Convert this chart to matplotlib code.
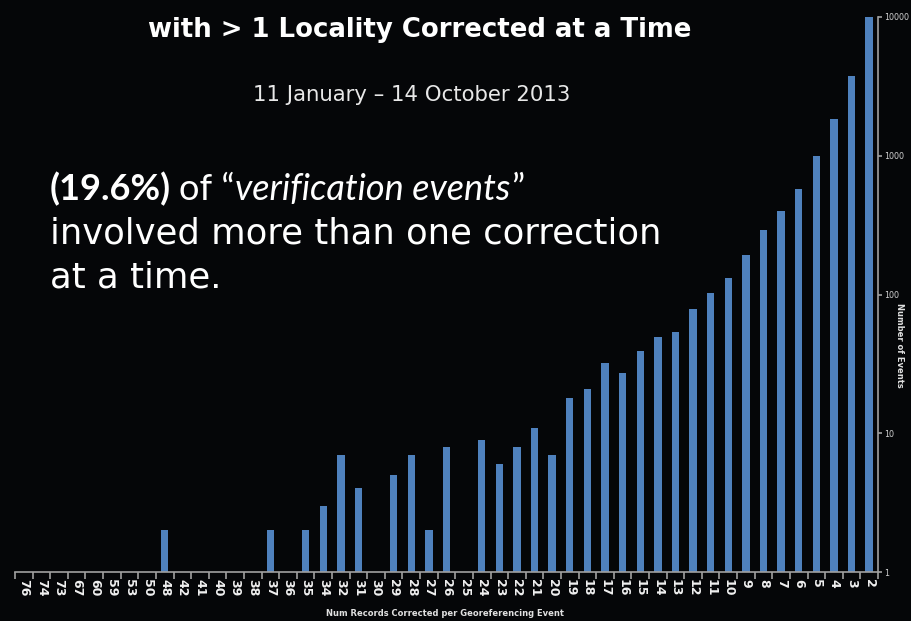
import matplotlib
matplotlib.use('Agg')
import matplotlib.pyplot as plt
from matplotlib.ticker import FixedLocator, NullLocator, FixedFormatter

# records corrected per event (categories, left to right) and number of events
cats = ['76', '74', '73', '67', '60', '59', '53', '50', '48', '42', '41', '40',
        '39', '38', '37', '36', '35', '34', '32', '31', '30', '29', '28', '27',
        '26', '25', '24', '23', '22', '21', '20', '19', '18', '17', '16', '15',
        '14', '13', '12', '11', '10', '9', '8', '7', '6', '5', '4', '3', '2']
events = [1, 1, 1, 1, 1, 1, 1, 1, 2, 1, 1, 1,
          1, 1, 2, 1, 2, 3, 7, 4, 1, 5, 7, 2,
          8, 1, 9, 6, 8, 11, 7, 18, 21, 32, 27, 39,
          49, 54, 78, 103, 131, 192, 291, 400, 576, 1000, 1855, 3735, 10000]
yticks = [1, 10, 100, 1000, 10000]

title = 'with > 1 Locality Corrected at a Time'
subtitle = '11 January \u2013 14 October 2013'

bg = '#050608'
bar_color = '#4f81bd'
axis_color = '#a0a0a0'
font = 'DejaVu Sans'

fig = plt.figure(figsize=(9.12, 6.21), dpi=100, facecolor=bg)
W, H = 912, 621
ax = fig.add_axes([15 / W, 1 - 572 / H, (878 - 15) / W, (572 - 17) / H])
ax.set_facecolor(bg)

x = list(range(len(cats)))
ax.bar(x, events, width=0.42, color=bar_color, bottom=0)
ax.set_yscale('log')
ax.set_ylim(1, 10000)
ax.set_xlim(-0.5, len(cats) - 0.5)

for s in ['left', 'top']:
    ax.spines[s].set_visible(False)
for s in ['bottom', 'right']:
    ax.spines[s].set_color(axis_color)
    ax.spines[s].set_linewidth(1.2)

ax.yaxis.tick_right()
ax.yaxis.set_major_locator(FixedLocator(yticks))
ax.yaxis.set_major_formatter(FixedFormatter([str(v) for v in yticks]))
ax.yaxis.set_minor_locator(NullLocator())
ax.tick_params(axis='y', colors=axis_color, length=3, width=1.2, labelsize=5.8,
               pad=1.5, labelcolor='#d0d0d0')

ax.set_xticks(x)
ax.set_xticklabels(cats, rotation=-90, fontsize=9, fontweight='bold',
                   color='#f0f0f0', family=font)
ax.set_xticks([i - 0.5 for i in range(len(cats) + 1)], minor=True)
ax.tick_params(axis='x', which='major', length=0, pad=5)
ax.tick_params(axis='x', which='minor', length=5, width=1.2, colors=axis_color)
for lab in ax.get_yticklabels():
    lab.set_family(font)

fig.text(445 / W, 1 - 614 / H, 'Num Records Corrected per Georeferencing Event',
         ha='center', va='center', fontsize=6, fontweight='bold',
         color='#e0e0e0', family=font)
fig.text(900 / W, 1 - 345 / H, 'Number of Events', rotation=-90,
         ha='center', va='center', fontsize=6, fontweight='bold',
         color='#e0e0e0', family=font)

fig.text(420 / W, 1 - 37 / H, title, ha='center', va='baseline',
         fontsize=18.7, fontweight='bold', color='white', family=font)
fig.text(412 / W, 1 - 101 / H, subtitle, ha='center', va='baseline',
         fontsize=15.3, color='#e8e8e8', family=font)

# mixed-style first line of the callout
renderer = fig.canvas.get_renderer()
size = 26
gap = size * 0.3
runs = [('(19.6%)', 'normal', 'bold', gap),
        ('of \u201c', 'normal', 'normal', 0),
        ('verification events', 'italic', 'normal', 1),
        ('\u201d', 'normal', 'normal', 0)]
px = 50
for txt, style, weight, after in runs:
    t = fig.text(px / W, 1 - 200 / H, txt, ha='left', va='baseline',
                 fontsize=size, fontstyle=style, fontweight=weight,
                 color='white', family='Lato')
    bb = t.get_window_extent(renderer)
    px = bb.x1 + after
fig.text(50 / W, 1 - 243 / H, 'involved more than one correction', ha='left',
         va='baseline', fontsize=25.5, color='white', family=font)
fig.text(50 / W, 1 - 287 / H, 'at a time.', ha='left', va='baseline',
         fontsize=25.5, color='white', family=font)

fig.savefig('out.png', dpi=100, facecolor=bg)
